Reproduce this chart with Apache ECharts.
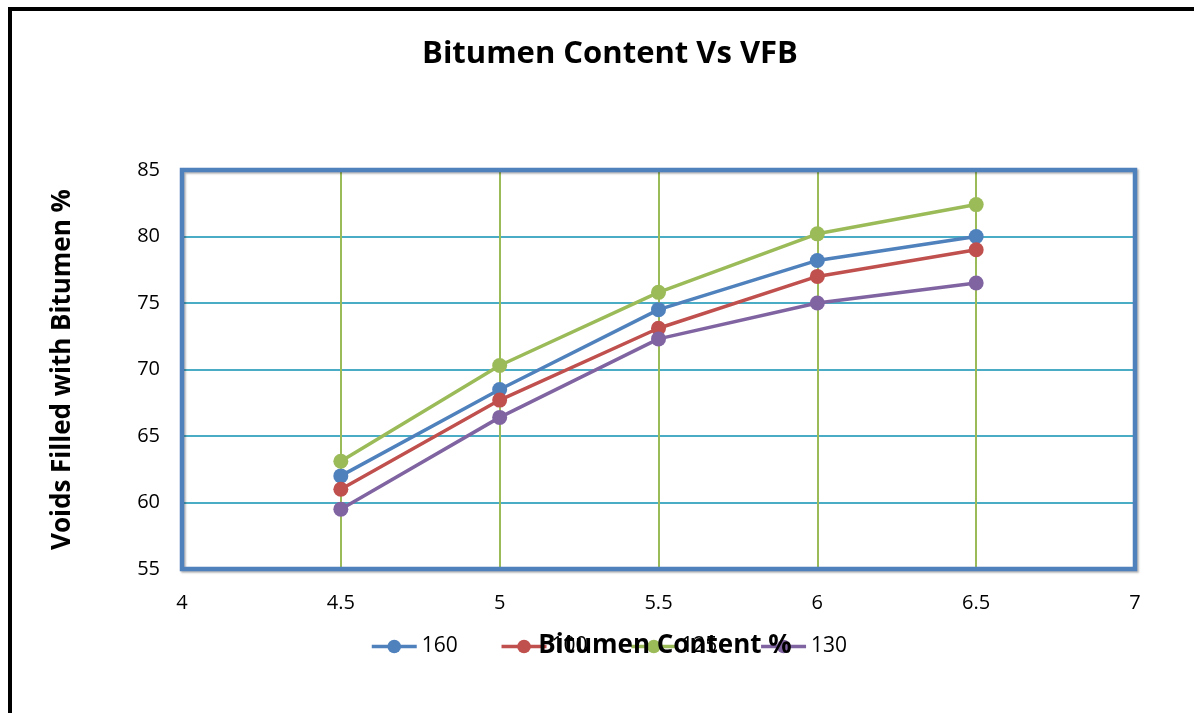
<!DOCTYPE html>
<html>
<head>
<meta charset="utf-8">
<script src="https://cdn.jsdelivr.net/npm/echarts@6/dist/echarts.min.js"></script>
<style>
  html, body { margin: 0; padding: 0; background: #fff; }
  #main { width: 1194px; height: 713px; }
</style>
</head>
<body>
<div id="main"></div>
<script>
(function () {
var myChart = echarts.init(document.getElementById('main'));

var bitumen = [4.5, 5, 5.5, 6, 6.5];
var names = ['160', '100', '125', '130'];
var vfb160 = [62.0, 68.5, 74.5, 78.2, 80.0];
var vfb100 = [61.0, 67.7, 73.1, 77.0, 79.0];
var vfb125 = [63.1, 70.3, 75.8, 80.2, 82.4];
var vfb130 = [59.5, 66.4, 72.3, 75.0, 76.5];
var colors = ['#4F81BD', '#C0504D', '#9BBB59', '#8064A2'];

var values = [vfb160, vfb100, vfb125, vfb130];
var font = '"Open Sans", "Liberation Sans", sans-serif';

var series = [];
for (var i = 0; i < names.length; i++) {
    series.push({
        name: names[i],
        type: 'line',
        color: colors[i],
        symbol: 'circle',
        symbolSize: 15,
        lineStyle: { width: 3.5 },
        data: bitumen.map(function (x, j) { return [x, values[i][j]]; })
    });
}

var option = {
    animation: false,
    textStyle: { fontFamily: font },
    graphic: [{
        type: 'rect',
        z: -10,
        shape: { x: 10, y: 9, width: 1300, height: 800 },
        style: { fill: 'none', stroke: '#000', lineWidth: 4 }
    }, {
        // plot frame, on top of the grid lines
        type: 'rect',
        z: 1,
        shape: { x: 182, y: 170, width: 953, height: 399 },
        style: { fill: 'none', stroke: '#4F81BD', lineWidth: 4.5,
                 shadowColor: 'rgba(0,0,0,0.3)', shadowBlur: 2, shadowOffsetX: 1.5, shadowOffsetY: 1.5 }
    }],
    title: [{
        text: 'Bitumen Content Vs VFB',
        left: 605,
        top: 34,
        textAlign: 'center',
        textStyle: { fontSize: 31, fontWeight: 'bold', color: '#000', fontFamily: font }
    }, {
        text: 'Bitumen Content %',
        left: 660,
        top: 628,
        textAlign: 'center',
        textStyle: { fontSize: 26, fontWeight: 'bold', color: '#000', fontFamily: font }
    }],
    legend: {
        data: names,
        left: 365,
        top: 631,
        itemWidth: 45,
        itemHeight: 17,
        itemGap: 42,
        lineStyle: { width: 3.5 },
        textStyle: { fontSize: 21, color: '#000', fontFamily: font }
    },
    grid: {
        left: 182,
        top: 170,
        right: 59,
        bottom: 144,
        show: false
    },
    xAxis: {
        type: 'value',
        min: 4,
        max: 7,
        interval: 0.5,
        axisLine: { show: false },
        axisTick: { show: false },
        axisLabel: { fontSize: 20, color: '#000', margin: 24, fontFamily: font },
        splitLine: { show: true, showMinLine: false, showMaxLine: false,
                     lineStyle: { color: '#9BBB59', width: 2 } }
    },
    yAxis: {
        type: 'value',
        min: 55,
        max: 85,
        interval: 5,
        name: 'Voids Filled with Bitumen %',
        nameLocation: 'middle',
        nameGap: 106,
        nameTextStyle: { fontSize: 26, fontWeight: 'bold', color: '#000', fontFamily: font },
        axisLine: { show: false },
        axisTick: { show: false },
        axisLabel: { fontSize: 20, color: '#000', margin: 22, fontFamily: font },
        splitLine: { show: true, showMinLine: false, showMaxLine: false,
                     lineStyle: { color: '#4BACC6', width: 2 } }
    },
    series: series
};

myChart.setOption(option);
window.addEventListener('resize', function () {
    myChart.resize();
});
})();
</script>
</body>
</html>
